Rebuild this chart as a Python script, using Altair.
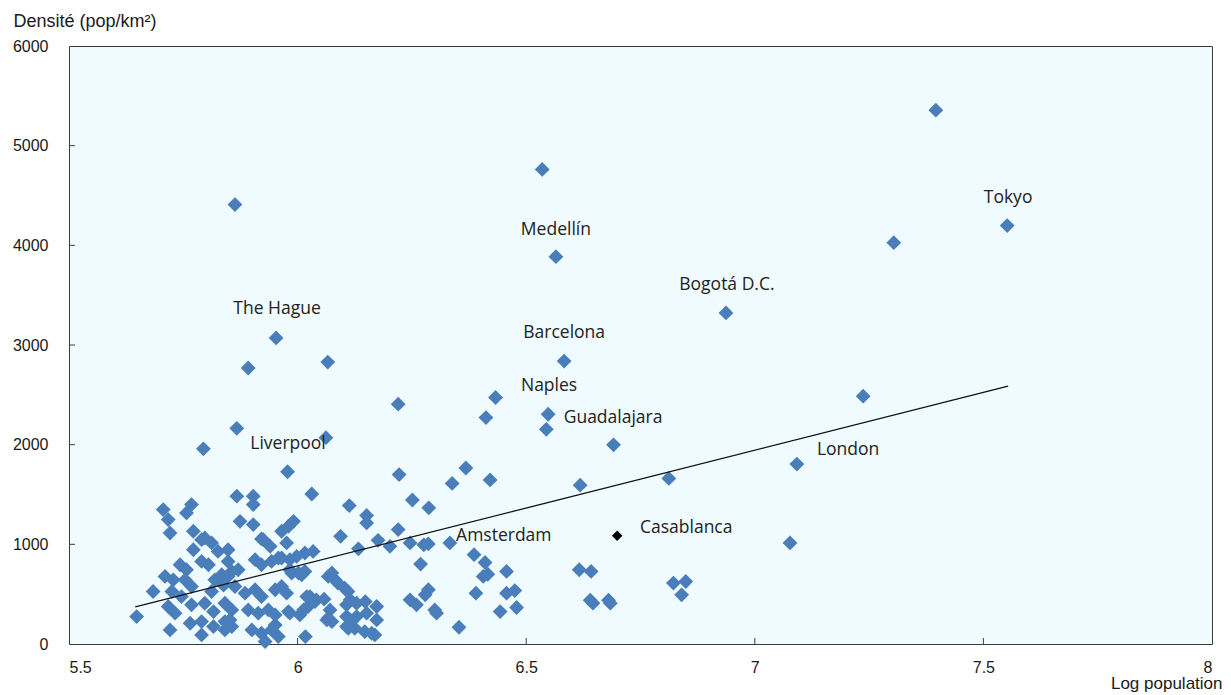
import altair as alt
import pandas as pd

# ---- data ----
log_pop = [
    7.396, 7.552, 7.304, 6.535, 6.565, 5.863, 6.937, 5.953, 5.892, 6.066,
    6.583, 6.433, 6.548, 6.544, 7.237, 6.220, 6.412, 5.867, 6.062, 5.794,
    6.691, 7.092, 6.812, 6.618, 5.978, 6.222, 6.368, 6.421, 6.338, 6.031,
    6.251, 6.287, 6.113, 6.151, 6.151, 6.220, 6.094, 6.133, 6.176, 6.202,
    6.246, 6.286, 6.276, 6.333, 6.269, 6.386, 6.410, 6.406, 6.416, 6.457,
    6.286, 6.279, 6.246, 6.260, 6.300, 6.304, 6.390, 6.457, 6.475, 6.443,
    6.479, 6.353, 7.077, 6.616, 6.642, 6.640, 6.646, 6.680, 6.684, 6.822,
    6.849, 6.840,
    6.075, 6.082, 6.088, 6.103, 6.110, 6.027, 6.041, 6.115, 6.148, 6.173,
    6.013, 5.983, 6.064, 6.107, 6.115, 6.173, 6.147, 6.169, 6.111, 6.017,
    5.940, 5.983, 5.998, 6.002, 6.016, 5.925, 5.976, 5.980, 5.991, 5.965,
    5.903, 5.903, 5.903, 5.867, 5.874, 5.921, 5.848, 5.848, 5.907, 5.921,
    5.943, 5.958, 6.016, 6.034, 5.987, 6.009, 6.067, 5.856, 5.870, 5.863,
    5.885, 5.907, 5.921, 5.951, 5.965, 5.976, 6.020, 6.038, 6.058, 5.856,
    5.852, 5.856, 5.892, 5.914, 5.936, 5.951, 5.980, 6.005, 6.023, 6.067,
    6.075, 5.900, 5.921, 5.943, 5.958, 5.929, 5.951, 6.129, 6.107, 6.129,
    6.151, 6.107, 6.125, 6.162, 6.071, 5.983, 5.965,
    5.706, 5.717, 5.768, 5.757, 5.721, 5.772, 5.797, 5.812, 5.772, 5.826,
    5.743, 5.757, 5.790, 5.805, 5.710, 5.728, 5.754, 5.768, 5.819, 5.834,
    5.848, 5.684, 5.725, 5.746, 5.812, 5.838, 5.648, 5.717, 5.732, 5.768,
    5.797, 5.816, 5.841, 5.721, 5.765, 5.790, 5.790, 5.816, 5.841, 5.841,
    5.790,
]
density = [
    5356, 4198, 4027, 4762, 3886, 4409, 3322, 3071, 2769, 2829,
    2839, 2473, 2305, 2154, 2487, 2406, 2272, 2164, 2070, 1958,
    1998, 1805, 1661, 1594, 1728, 1700, 1766, 1646, 1611, 1505,
    1445, 1366, 1389, 1289, 1215, 1148, 1080, 955, 1040, 980,
    1014, 1004, 995, 1014, 802, 896, 818, 678, 700, 728,
    544, 493, 443, 393, 342, 309, 510, 510, 536, 325,
    366, 168, 1014, 745, 728, 440, 410, 440, 410, 611,
    627, 493,
    712, 644, 611, 560, 527, 476, 443, 443, 426, 376,
    342, 309, 242, 275, 242, 242, 124, 91, 158, 74,
    980, 846, 879, 712, 728, 1047, 1014, 1181, 1231, 1131,
    1483, 1399, 1198, 1483, 1231, 1054, 946, 829, 846, 795,
    829, 863, 913, 929, 712, 695, 678, 728, 745, 577,
    510, 544, 476, 544, 577, 510, 476, 426, 450, 342,
    242, 175, 342, 309, 342, 292, 325, 292, 376, 258,
    225, 141, 108, 141, 74, 25, 191, 409, 393, 275,
    309, 175, 158, 108, 342, 745, 863,
    1349, 1248, 1399, 1315, 1114, 1131, 1064, 1014, 946, 929,
    795, 745, 829, 795, 678, 644, 644, 577, 644, 695,
    678, 527, 527, 476, 527, 590, 275, 376, 309, 393,
    409, 325, 409, 141, 208, 225, 91, 175, 225, 141,
    1047,
]

casa_x = [6.699]
casa_y = [1087]

label_names = ["Tokyo", "Medellín", "Bogotá D.C.", "The Hague", "Barcelona",
               "Naples", "Guadalajara", "Liverpool", "London", "Amsterdam",
               "Casablanca"]
label_x = [7.554, 6.565, 6.939, 5.955, 6.583, 6.550, 6.690, 5.979, 7.204,
           6.451, 6.850]
label_y = [4470, 4150, 3600, 3360, 3125, 2585, 2270, 2010, 1950, 1085, 1165]

trend_x = [5.645, 7.554]
trend_y = [372, 2587]

x_ticks = [5.5, 6, 6.5, 7, 7.5, 8]
y_ticks = [0, 1000, 2000, 3000, 4000, 5000, 6000]

# ---- chart ----
W, H = 1143, 598
PAD_L, PAD_T, PAD_R, PAD_B = 61, 38, 10, 49
AX_FONT = "Liberation Sans"
BLUE = "#4A7EBB"

xs = alt.Scale(domain=[5.5, 8], nice=False, zero=False)
ys = alt.Scale(domain=[0, 6000], nice=False, zero=True)

x_axis = alt.Axis(values=x_ticks, format="~g", title="Log population",
                  ticks=False, domain=False, grid=False, labelPadding=15,
                  labelFont=AX_FONT, labelFontSize=16, labelColor="#1a1a1a",
                  titleFont=AX_FONT, titleFontSize=17, titleFontWeight="normal",
                  titleColor="#1a1a1a", titleX=W + PAD_R, titleY=44,
                  titleAlign="right", titleBaseline="alphabetic", titleAngle=0)
y_axis = alt.Axis(values=y_ticks, format="d", title="Densité (pop/km²)",
                  ticks=False, domain=False, grid=False, labelPadding=21,
                  labelFont=AX_FONT, labelFontSize=16, labelColor="#1a1a1a",
                  titleFont=AX_FONT, titleFontSize=18, titleFontWeight="normal",
                  titleColor="#1a1a1a", titleX=-56, titleY=-20,
                  titleAlign="left", titleBaseline="alphabetic", titleAngle=0)

X = alt.X("x:Q", scale=xs, axis=x_axis)
Y = alt.Y("y:Q", scale=ys, axis=y_axis)

pts_df = pd.DataFrame({"x": log_pop, "y": density})
casa_df = pd.DataFrame({"x": casa_x, "y": casa_y})
lab_df = pd.DataFrame({"name": label_names, "x": label_x, "y": label_y})
trend_df = pd.DataFrame({"x": trend_x, "y": trend_y})
xt_df = pd.DataFrame({"x": x_ticks[1:-1]})
yt_df = pd.DataFrame({"y": y_ticks[1:-1]})

points = alt.Chart(pts_df).mark_point(
    shape="diamond", filled=True, size=220, color=BLUE, opacity=1
).encode(x=X, y=Y)

trend = alt.Chart(trend_df).mark_line(color="#111111", strokeWidth=1.3).encode(
    x=X, y=Y)

casa = alt.Chart(casa_df).mark_point(
    shape="diamond", filled=True, size=110, color="#000000", opacity=1
).encode(x=X, y=Y)

labels = alt.Chart(lab_df).mark_text(
    font="Open Sans", fontSize=17.5, color="#222222", align="center",
    baseline="middle"
).encode(x=X, y=Y, text="name:N")

xticks = alt.Chart(xt_df).mark_rule(color="#404040", strokeWidth=1).encode(
    x=X, y=alt.value(H), y2=alt.value(H - 6))
yticks = alt.Chart(yt_df).mark_rule(color="#404040", strokeWidth=1).encode(
    y=Y, x=alt.value(0), x2=alt.value(6))

chart = alt.layer(points, trend, casa, labels, xticks, yticks).properties(
    width=W, height=H,
    autosize=alt.AutoSizeParams(type="none"),
    padding={"left": PAD_L, "top": PAD_T, "right": PAD_R, "bottom": PAD_B},
    background="white",
).configure_view(
    fill="#EFFBFE", stroke="#3a3a3a", strokeWidth=1
)

chart.save("out.html", embed_options={"renderer": "svg", "actions": False})
